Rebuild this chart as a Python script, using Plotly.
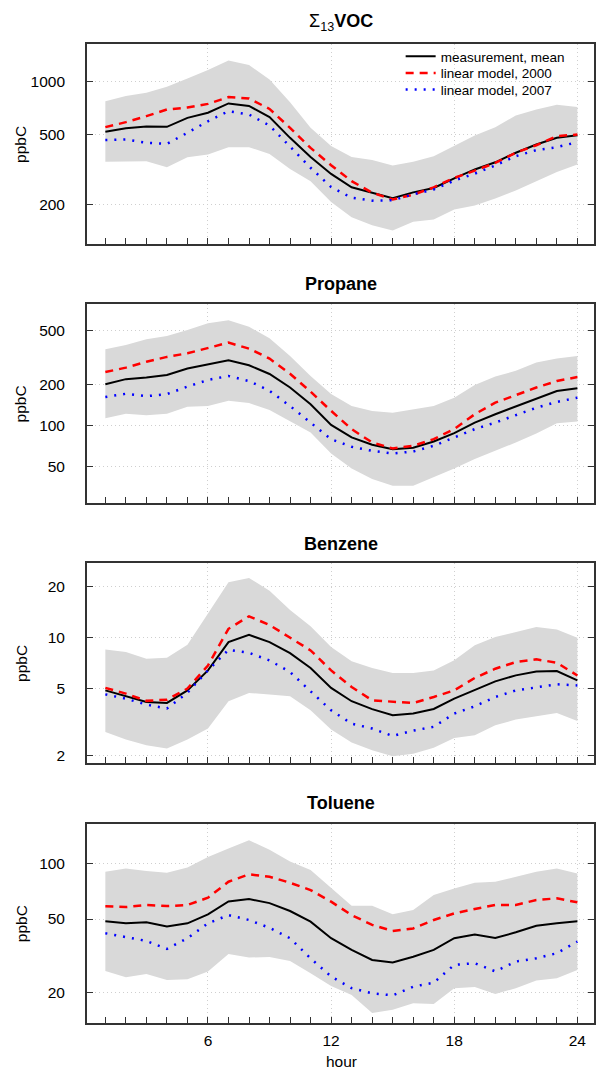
import plotly.graph_objects as go

hours = list(range(1, 25))

# ---- Sigma13 VOC ----
voc_mean = [517, 542, 554, 552, 621, 664, 750, 726, 627, 478, 372, 298, 250, 232, 217, 234, 248, 281, 316, 347, 393, 438, 478, 495]
voc_m2000 = [550, 587, 635, 693, 711, 746, 815, 800, 698, 545, 419, 334, 271, 233, 213, 227, 250, 283, 311, 344, 393, 434, 489, 499]
voc_m2007 = [464, 468, 448, 442, 511, 594, 678, 649, 562, 429, 323, 251, 218, 210, 211, 228, 243, 273, 299, 333, 376, 407, 423, 452]
voc_hi = [773, 826, 862, 933, 1040, 1161, 1318, 1240, 1027, 762, 545, 429, 372, 357, 333, 349, 376, 429, 493, 550, 640, 693, 737, 717]
voc_lo = [349, 349, 352, 325, 371, 384, 423, 423, 387, 318, 271, 206, 169, 152, 142, 159, 164, 187, 197, 216, 240, 271, 306, 337]

# ---- Propane ----
pro_mean = [201, 219, 225, 235, 262, 279, 301, 277, 239, 190, 143, 101, 81.7, 72.2, 67, 68.6, 76.3, 87.9, 105, 121, 138, 158, 179, 188]
pro_m2000 = [247, 266, 294, 319, 339, 373, 406, 367, 310, 240, 177, 128, 94, 75, 67.8, 70.9, 79.3, 94, 121, 147, 167, 190, 212, 227]
pro_m2007 = [162, 171, 164, 170, 193, 216, 231, 212, 180, 139, 105, 79.3, 69.7, 65.1, 62.2, 64.4, 70.9, 81.7, 94, 105, 119, 135, 149, 160]
pro_hi = [363, 390, 430, 454, 503, 563, 592, 532, 437, 324, 231, 170, 139, 128, 124, 132, 139, 160, 198, 229, 252, 290, 310, 324]
pro_lo = [113, 122, 119, 122, 137, 139, 152, 146, 130, 108, 88.8, 62.2, 48.3, 40.4, 36.1, 36.1, 41.5, 48.3, 56.6, 65.1, 75, 87.3, 104, 107]

# ---- Benzene ----
ben_mean = [4.88, 4.52, 4.17, 4.11, 4.88, 6.41, 9.43, 10.4, 9.43, 8.11, 6.62, 5.05, 4.21, 3.78, 3.48, 3.56, 3.79, 4.36, 4.88, 5.52, 5.99, 6.32, 6.35, 5.59]
ben_m2000 = [5.05, 4.67, 4.23, 4.30, 5.00, 6.85, 11.3, 13.4, 11.9, 9.96, 8.42, 6.41, 5.11, 4.26, 4.17, 4.11, 4.46, 4.88, 5.78, 6.56, 7.18, 7.45, 7.12, 5.98]
ben_m2007 = [4.62, 4.36, 4.02, 3.81, 4.73, 6.41, 8.49, 8.15, 7.34, 6.27, 4.82, 3.72, 3.10, 2.90, 2.62, 2.82, 2.97, 3.56, 3.93, 4.46, 4.88, 5.11, 5.30, 5.22]
ben_hi = [8.53, 8.23, 7.51, 7.62, 9.08, 14.0, 21.3, 22.6, 19.0, 14.6, 11.7, 8.81, 7.25, 6.62, 6.18, 6.18, 6.41, 7.35, 9.02, 10.1, 10.8, 11.6, 11.2, 10.0]
ben_lo = [2.77, 2.50, 2.31, 2.21, 2.50, 2.90, 4.21, 4.71, 4.62, 4.50, 3.72, 2.86, 2.40, 2.16, 1.99, 2.06, 2.23, 2.55, 2.65, 3.03, 3.28, 3.43, 3.59, 3.22]

# ---- Toluene ----
tol_mean = [48.6, 47.5, 48.0, 45.6, 47.4, 53.0, 62.2, 64.0, 60.9, 55.2, 48.4, 39.4, 34.1, 30.1, 29.2, 31.3, 34.1, 39.4, 41.3, 39.5, 42.4, 46.0, 47.4, 48.6]
tol_m2000 = [58.5, 58.0, 59.5, 58.7, 59.5, 65.1, 79.4, 87.0, 84.5, 78.4, 71.6, 62.0, 52.5, 46.5, 43.1, 44.5, 49.4, 53.6, 56.6, 59.5, 59.5, 63.3, 64.6, 61.5]
tol_m2007 = [41.9, 40.0, 38.1, 34.5, 39.4, 47.4, 52.5, 49.4, 44.8, 39.4, 30.7, 24.5, 21.2, 19.9, 19.4, 21.6, 22.7, 28.3, 28.9, 26.1, 29.5, 30.7, 32.7, 37.8]
tol_hi = [89.8, 93.6, 90.6, 88.7, 94.8, 108, 120, 133, 118, 102, 91.7, 73.1, 59.0, 59.0, 53.0, 55.9, 67.3, 73.1, 78.4, 79.4, 84.5, 89.8, 93.6, 88.0]
tol_lo = [26.2, 24.3, 25.3, 23.5, 23.7, 26.1, 32.4, 31.0, 31.2, 29.7, 25.5, 21.8, 19.5, 15.6, 16.2, 17.6, 17.4, 21.2, 21.5, 19.7, 21.2, 23.3, 24.0, 26.6]

titles = ["Σ<sub>13</sub><b>VOC</b>", "<b>Propane</b>", "<b>Benzene</b>", "<b>Toluene</b>"]
ytickvals = [[200, 500, 1000], [50, 100, 200, 500], [2, 5, 10, 20], [20, 50, 100]]
legend_names = ["measurement, mean", "linear model, 2000", "linear model, 2007"]
xlabel_ticks = [6, 12, 18, 24]

panels = [
    (voc_mean, voc_m2000, voc_m2007, voc_lo, voc_hi),
    (pro_mean, pro_m2000, pro_m2007, pro_lo, pro_hi),
    (ben_mean, ben_m2000, ben_m2007, ben_lo, ben_hi),
    (tol_mean, tol_m2000, tol_m2007, tol_lo, tol_hi),
]

# layout geometry (pixels)
W, H = 596, 1072
plot_px = [(44.5, 244), (304.5, 504), (564.5, 764), (825.5, 1024.5)]
yranges = [[2.078, 3.211], [1.430, 2.893], [0.261, 1.440], [1.141, 2.211]]
title_y = [23, 285, 545, 805]
legend_row_y = [56.7, 73.3, 90.0]
legend_ids = ["legend", "legend2", "legend3"]
x_left_px = 87.4

FONT = "Liberation Sans, Arial, Helvetica, sans-serif"
AXC = "#333333"

fig = go.Figure()
line_styles = [
    dict(color="black", width=2),
    dict(color="#ff0000", width=2.5, dash="8px,6px"),
    dict(color="#0000ff", width=2.5, dash="2px,7px"),
]

for i, (mean, m2000, m2007, lo, hi) in enumerate(panels):
    xa = "x" if i == 0 else f"x{i+1}"
    ya = "y" if i == 0 else f"y{i+1}"
    fig.add_trace(go.Scatter(x=hours, y=lo, mode="lines", line=dict(width=0, color="#d9d9d9"),
                             showlegend=False, hoverinfo="skip", xaxis=xa, yaxis=ya))
    fig.add_trace(go.Scatter(x=hours, y=hi, mode="lines", line=dict(width=0, color="#d9d9d9"),
                             fill="tonexty", fillcolor="#d9d9d9",
                             showlegend=False, hoverinfo="skip", xaxis=xa, yaxis=ya))
    for series, name, st, lid in zip([mean, m2000, m2007], legend_names, line_styles, legend_ids):
        fig.add_trace(go.Scatter(x=hours, y=series, mode="lines", name=name, line=st,
                                 showlegend=(i == 0), legend=lid, xaxis=xa, yaxis=ya))

layout = dict(
    width=W, height=H,
    margin=dict(l=0, r=0, t=0, b=0),
    paper_bgcolor="white", plot_bgcolor="white",
    font=dict(family=FONT, size=15.5, color="black"),
    showlegend=True,
)
for lid, ry in zip(legend_ids, legend_row_y):
    layout[lid] = dict(x=402 / W, y=1 - ry / H, xanchor="left", yanchor="middle",
                       bgcolor="rgba(0,0,0,0)", font=dict(size=13.5, family=FONT),
                       itemwidth=30, borderwidth=0)

annotations = []
for i in range(4):
    top, bot = plot_px[i]
    xkey = "xaxis" if i == 0 else f"xaxis{i+1}"
    ykey = "yaxis" if i == 0 else f"yaxis{i+1}"
    yid = "y" if i == 0 else f"y{i+1}"
    xid = "x" if i == 0 else f"x{i+1}"
    layout[xkey] = dict(
        domain=[x_left_px / W, 1.0], anchor=yid, range=[0.111, 24.81],
        tickmode="array", tickvals=xlabel_ticks,
        ticktext=[str(v) for v in xlabel_ticks],
        showticklabels=(i == 3), ticks="inside", ticklen=6, tickwidth=1, tickcolor=AXC,
        showline=True, linewidth=2, linecolor=AXC, mirror=True,
        showgrid=True, gridcolor="#cfcfcf", gridwidth=1, griddash="1px,3px",
        zeroline=False, ticklabelstandoff=3,
        minor=dict(tickmode="linear", tick0=0, dtick=1, ticks="inside", ticklen=6,
                   tickwidth=1, tickcolor=AXC, showgrid=False),
        tickfont=dict(size=15.5),
    )
    layout[ykey] = dict(
        domain=[1 - bot / H, 1 - top / H], anchor=xid, type="log", range=yranges[i],
        tickmode="array", tickvals=ytickvals[i], ticktext=[str(v) for v in ytickvals[i]],
        ticks="inside", ticklen=6, tickwidth=1, tickcolor=AXC,
        showline=True, linewidth=2, linecolor=AXC, mirror="ticks",
        showgrid=True, gridcolor="#cfcfcf", gridwidth=1, griddash="1px,3px",
        zeroline=False, ticklabelstandoff=17, tickfont=dict(size=15.5),
    )
    annotations.append(dict(text=titles[i], x=342.5 / W, y=1 - title_y[i] / H,
                            xref="paper", yref="paper", xanchor="center", yanchor="middle",
                            showarrow=False, font=dict(size=18, family=FONT)))
    annotations.append(dict(text="ppbC", x=21 / W, y=1 - (top + bot) / 2 / H,
                            xref="paper", yref="paper", xanchor="center", yanchor="middle",
                            textangle=-90, showarrow=False, font=dict(size=15.5, family=FONT)))

annotations.append(dict(text="hour", x=342.5 / W, y=1 - 1063 / H, xref="paper", yref="paper",
                        xanchor="center", yanchor="middle", showarrow=False,
                        font=dict(size=15.5, family=FONT)))
layout["annotations"] = annotations

fig.update_layout(**layout)
fig.write_html("out.html")
